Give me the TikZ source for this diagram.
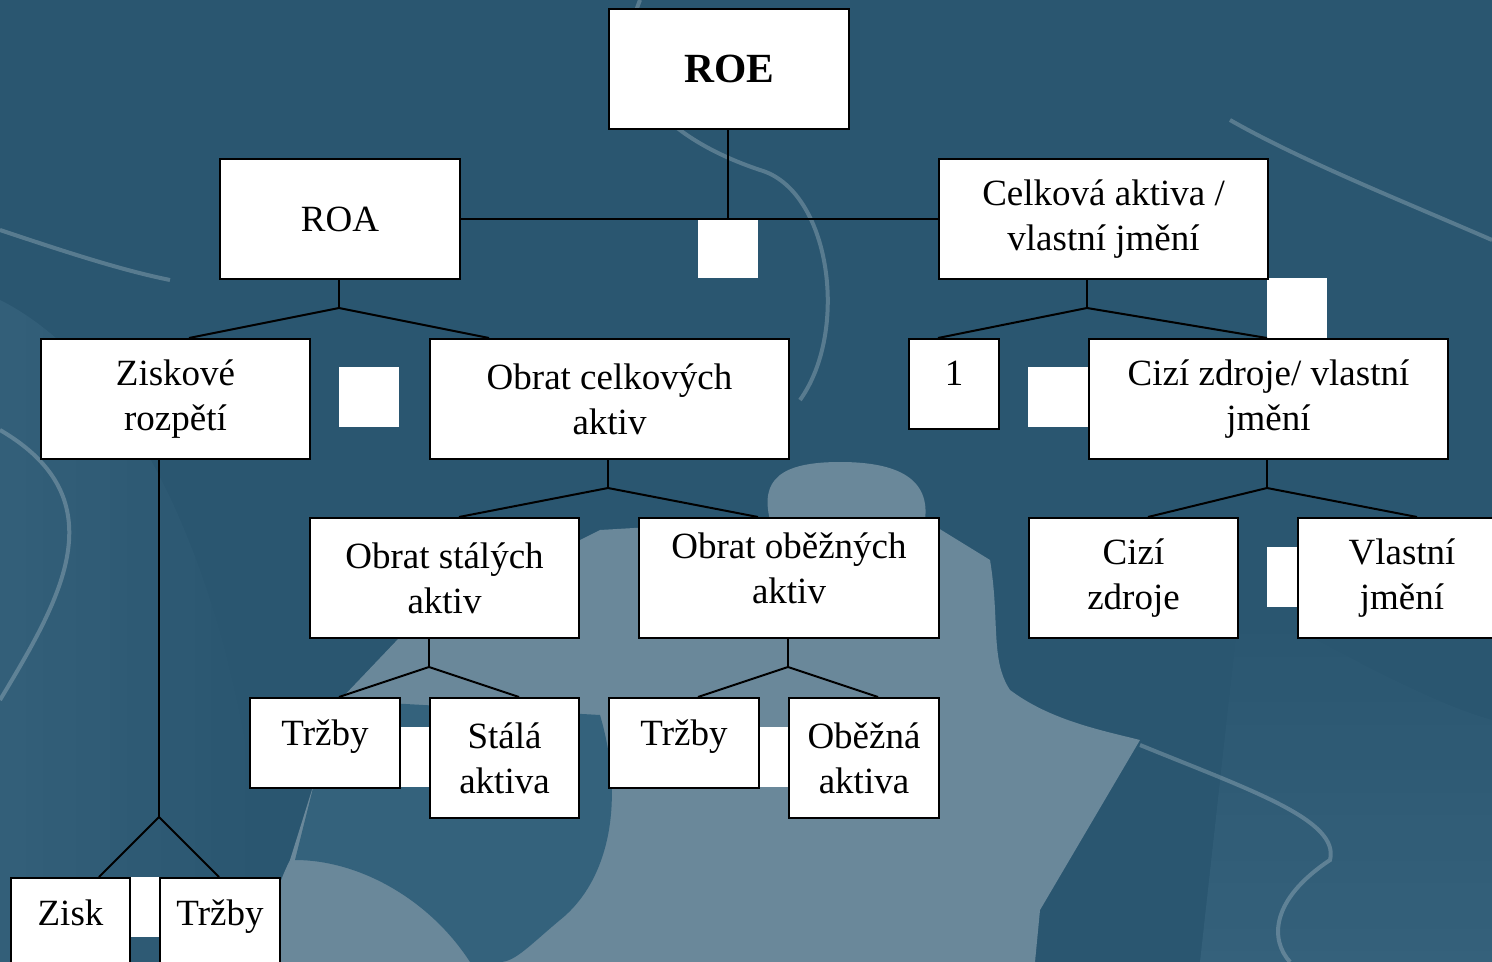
\documentclass[tikz,border=0pt]{standalone}
\usepackage{fontspec}
\setmainfont{Liberation Serif}
\usepackage{tikz}
\usetikzlibrary{positioning}

\definecolor{bgdark}{RGB}{42,86,112}
\definecolor{bgmid}{RGB}{58,102,128}
\definecolor{bgblob}{RGB}{52,98,124}
\definecolor{bglight}{RGB}{106,136,154}

\tikzset{
        box/.style={draw=black, fill=white, line width=1pt, inner sep=0pt,
            anchor=north west, align=center,
            font=\fontsize{18.5}{22.5}\selectfont},
        onebox/.style={box, text height=23.5pt, text depth=21.5pt},
        opbox/.style={fill=white, draw=none, anchor=north west, inner sep=0pt,
            minimum width=30pt, minimum height=30pt},
        link/.style={line width=1pt, black},
        glint/.style={white, opacity=0.22, line width=2pt}
}

\begin{document}
\begin{tikzpicture}[x=0.5pt,y=-0.5pt]

        \useasboundingbox (0,0) rectangle (1492,962);
        \fill[bgdark] (0,0) rectangle (1492,962);
        \shade[left color=bgmid, right color=bgdark, opacity=0.6]
            (0,300) .. controls (120,360) and (250,560) .. (270,962) -- (0,962) -- cycle;
        \shade[top color=bgdark, bottom color=bgmid, opacity=0.7]
            (1240,600) .. controls (1320,640) and (1420,700) .. (1492,720)
            -- (1492,962) -- (1200,962) -- cycle;
        \fill[bglight] (265,962) .. controls (268,920) and (275,890) .. (290,860)
            -- (340,700) -- (400,637) .. controls (460,600) and (540,560) .. (600,530)
            -- (770,520) .. controls (760,480) and (780,462) .. (840,462)
            .. controls (900,462) and (930,480) .. (925,520)
            -- (990,560) .. controls (1000,620) and (990,660) .. (1010,690)
            .. controls (1050,720) and (1100,730) .. (1140,740)
            -- (1040,910) -- (1035,962) -- cycle;
        \fill[bgblob] (335,700) -- (600,715) .. controls (625,800) and (610,880) .. (560,920)
            .. controls (530,945) and (515,962) .. (500,962) -- (470,962)
            .. controls (430,900) and (360,860) .. (295,860) -- cycle;
        \draw[glint] (640,0) .. controls (600,100) and (700,150) .. (760,170)
            .. controls (830,190) and (850,330) .. (800,400);
        \draw[glint] (1230,120) .. controls (1300,160) and (1400,200) .. (1492,240);
        \draw[glint] (0,230) .. controls (60,250) and (120,270) .. (170,280);
        \draw[glint] (0,430) .. controls (120,500) and (60,600) .. (0,700);
        \draw[glint] (1140,745) .. controls (1250,790) and (1340,820) .. (1330,860)
            .. controls (1270,900) and (1270,940) .. (1290,962);

        \foreach \n/\x/\y in {op1/698/218, op2/339/367, op3/1028/367, op4/1267/278,
            op5/1267/547, op6/399/727, op7/758/727, op8/129/877}
            \node[opbox] (\n) at (\x,\y) {};

        \node[box, minimum width=120pt, minimum height=60pt,
            font=\fontsize{20.75}{25}\selectfont\bfseries] (roe) at (608,8) {ROE};
        \node[box, minimum width=120pt, minimum height=60pt] (roa) at (219,158) {ROA};
        \node[box, minimum width=164.5pt, minimum height=60pt] (leverage) at (938,158)
            {Celková aktiva /\\vlastní jmění};
        \node[box, minimum width=134.5pt, minimum height=60pt] (margin) at (40,338)
            {Ziskové\\rozpětí};
        \node[box, minimum width=179.5pt, minimum height=60pt] (turnover) at (429,338)
            {Obrat celkových\\aktiv};
        \node[onebox, minimum width=45pt] (one) at (908,338) {1};
        \node[box, minimum width=179.5pt, minimum height=60pt] (debtratio) at (1088,338)
            {Cizí zdroje/ vlastní\\jmění};
        \node[box, minimum width=134.5pt, minimum height=60pt] (fixedturn) at (309,517)
            {Obrat stálých\\aktiv};
        \node[box, minimum width=150pt, minimum height=60pt, text depth=10pt] (currturn)
            at (638,517) {Obrat oběžných\\aktiv};
        \node[box, minimum width=104.5pt, minimum height=60pt] (debt) at (1028,517)
            {Cizí\\zdroje};
        \node[box, minimum width=104pt, minimum height=60pt] (equity) at (1297,517)
            {Vlastní\\jmění};
        \node[onebox, minimum width=75pt] (salesA) at (249,697) {Tržby};
        \node[box, minimum width=74.5pt, minimum height=60pt] (fixed) at (429,697)
            {Stálá\\aktiva};
        \node[onebox, minimum width=75pt] (salesB) at (608,697) {Tržby};
        \node[box, minimum width=75pt, minimum height=60pt] (current) at (788,697)
            {Oběžná\\aktiva};
        \node[onebox, minimum width=59.5pt] (profit) at (10,877) {Zisk};
        \node[onebox, minimum width=60pt] (salesC) at (159,877) {Tržby};

        \coordinate (j0) at (728,218);
        \coordinate (j1) at (339,308);
        \coordinate (j2) at (1087,308);
        \coordinate (j3) at (608,488);
        \coordinate (j4) at (1267,488);
        \coordinate (j5) at (429,667);
        \coordinate (j6) at (788,667);
        \coordinate (j7) at (159,817);

        \draw[link] (j0 |- roe.south) -- (j0);
        \draw[link] (roa.east) -- (leverage.west);
        \draw[link] (j1 |- roa.south) -- (j1);
        \draw[link] (189,0 |- margin.north) -- (j1) -- (489,0 |- turnover.north);
        \draw[link] (j2 |- leverage.south) -- (j2);
        \draw[link] (938,0 |- one.north) -- (j2) -- (1267,0 |- debtratio.north);
        \draw[link] (j3 |- turnover.south) -- (j3);
        \draw[link] (459,0 |- fixedturn.north) -- (j3) -- (758,0 |- currturn.north);
        \draw[link] (j4 |- debtratio.south) -- (j4);
        \draw[link] (1148,0 |- debt.north) -- (j4) -- (1417,0 |- equity.north);
        \draw[link] (j5 |- fixedturn.south) -- (j5);
        \draw[link] (339,0 |- salesA.north) -- (j5) -- (519,0 |- fixed.north);
        \draw[link] (j6 |- currturn.south) -- (j6);
        \draw[link] (698,0 |- salesB.north) -- (j6) -- (878,0 |- current.north);
        \draw[link] (j7 |- margin.south) -- (j7);
        \draw[link] (99,0 |- profit.north) -- (j7) -- (219,0 |- salesC.north);
\end{tikzpicture}
\end{document}
